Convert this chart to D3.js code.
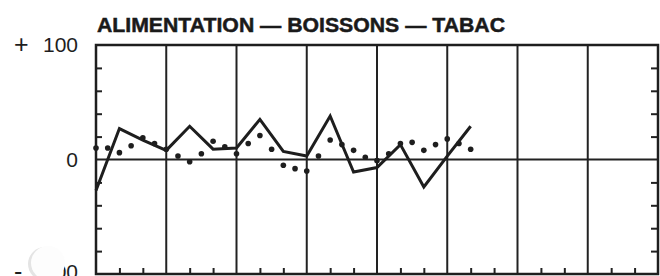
<!DOCTYPE html>
<html lang="fr">
<head>
  <meta charset="UTF-8">
  <title>Alimentation — Boissons — Tabac</title>
  <style>
    body { margin: 0; background: #fff; }
    svg { display: block; }
    .title { font: bold 21px "Liberation Sans", Arial, sans-serif; fill: #1a1a1a; stroke: #1a1a1a; stroke-width: 0.5px; }
    .ylab { font: 21px "Liberation Sans", Arial, sans-serif; fill: #1e1e1e; }
    .sign { font: 25px "Liberation Sans", Arial, sans-serif; fill: #1e1e1e; }
    .tick line { stroke: #222; stroke-width: 2px; }
  </style>
</head>
<body>
  <svg width="660" height="276"></svg>

  <script src="https://d3js.org/d3.v7.min.js"></script>
  <script>
    // 8 years, solid series = 3 points per year, dotted series = 6 points per year
    const years = 8;
    const solidValues = [-27, 27, 17, 8, 29, 9, 10, 35, 7, 3, 38, -11, -7, 13, -24, 3, 29];
    const dottedValues = [10, 10, 6, 12, 19, 14, 9, 3, -2, 5, 16, 11, 5, 14, 21, 9, -5,
                          -8, -10, 3, 17, 13, 8, 2, -1, 5, 14, 15, 8, 13, 18, 14, 9];
    const yTicks = [-80, -60, -40, -20, 20, 40, 60, 80];
    const yLabels = [
      { value: 100, sign: "+", text: "100" },
      { value: 0, sign: "", text: "0" },
      { value: -100, sign: "-", text: "100" }
    ];

    const plotLeft = 96, plotRight = 658, plotTop = 45, plotBottom = 274;
    const svg = d3.select("svg");

    const x = d3.scaleLinear().domain([0, years]).range([plotLeft, plotRight]);
    const y = d3.scaleLinear().domain([-100, 100]).range([plotBottom, plotTop]);

    // tick marks: inside on left, inside on right, upward on bottom
    svg.append("g")
      .attr("transform", `translate(${plotLeft},0)`)
      .call(d3.axisRight(y).tickValues(yTicks).tickSize(6).tickFormat(""))
      .call(g => g.select(".domain").remove());

    svg.append("g")
      .attr("transform", `translate(${plotRight},0)`)
      .call(d3.axisLeft(y).tickValues(yTicks).tickSize(7).tickFormat(""))
      .call(g => g.select(".domain").remove());

    const subTicks = d3.range(years * 3).filter(i => i % 3 !== 0).map(i => i / 3);
    svg.append("g")
      .attr("transform", `translate(0,${plotBottom})`)
      .call(d3.axisTop(x).tickValues(subTicks).tickSize(6).tickFormat(""))
      .call(g => g.select(".domain").remove());

    // year separators
    svg.append("g")
      .selectAll("line")
      .data(d3.range(1, years))
      .join("line")
      .attr("x1", d => x(d)).attr("x2", d => x(d))
      .attr("y1", plotTop).attr("y2", plotBottom)
      .attr("stroke", "#222")
      .attr("stroke-width", 2);

    // zero line
    svg.append("line")
      .attr("x1", plotLeft).attr("x2", plotRight)
      .attr("y1", y(0)).attr("y2", y(0))
      .attr("stroke", "#222")
      .attr("stroke-width", 2);

    // frame
    svg.append("rect")
      .attr("x", plotLeft).attr("y", plotTop)
      .attr("width", plotRight - plotLeft).attr("height", plotBottom - plotTop)
      .attr("fill", "none")
      .attr("stroke", "#1e1e1e")
      .attr("stroke-width", 2.5);

    // dotted series
    svg.append("g")
      .selectAll("circle")
      .data(dottedValues)
      .join("circle")
      .attr("cx", (d, i) => x(i / 6))
      .attr("cy", d => y(d))
      .attr("r", 2.8)
      .attr("fill", "#1e1e1e");

    // solid series
    const line = d3.line()
      .x((d, i) => x(i / 3))
      .y(d => y(d));

    svg.append("path")
      .datum(solidValues)
      .attr("d", line)
      .attr("fill", "none")
      .attr("stroke", "#1e1e1e")
      .attr("stroke-width", 3)
      .attr("stroke-linejoin", "miter");

    // title
    svg.append("text")
      .attr("class", "title")
      .attr("x", 97)
      .attr("y", 32)
      .attr("textLength", 408)
      .attr("lengthAdjust", "spacingAndGlyphs")
      .text("ALIMENTATION — BOISSONS — TABAC");

    // y labels
    const lab = svg.append("g")
      .selectAll("g")
      .data(yLabels)
      .join("g")
      .attr("transform", d => `translate(0,${Math.min(y(d.value) + 7, 279)})`);

    lab.append("text")
      .attr("class", "sign")
      .attr("x", 14)
      .attr("y", 1)
      .text(d => d.sign);

    lab.append("text")
      .attr("class", "ylab")
      .attr("x", 78)
      .attr("text-anchor", "end")
      .text(d => d.text);

    // paper blemish over the bottom label
    svg.append("circle")
      .attr("cx", 45).attr("cy", 264)
      .attr("r", 17)
      .attr("fill", "#e4e4e4");
    svg.append("circle")
      .attr("cx", 48).attr("cy", 263)
      .attr("r", 17)
      .attr("fill", "#fdfdfd");
  </script>
</body>
</html>
